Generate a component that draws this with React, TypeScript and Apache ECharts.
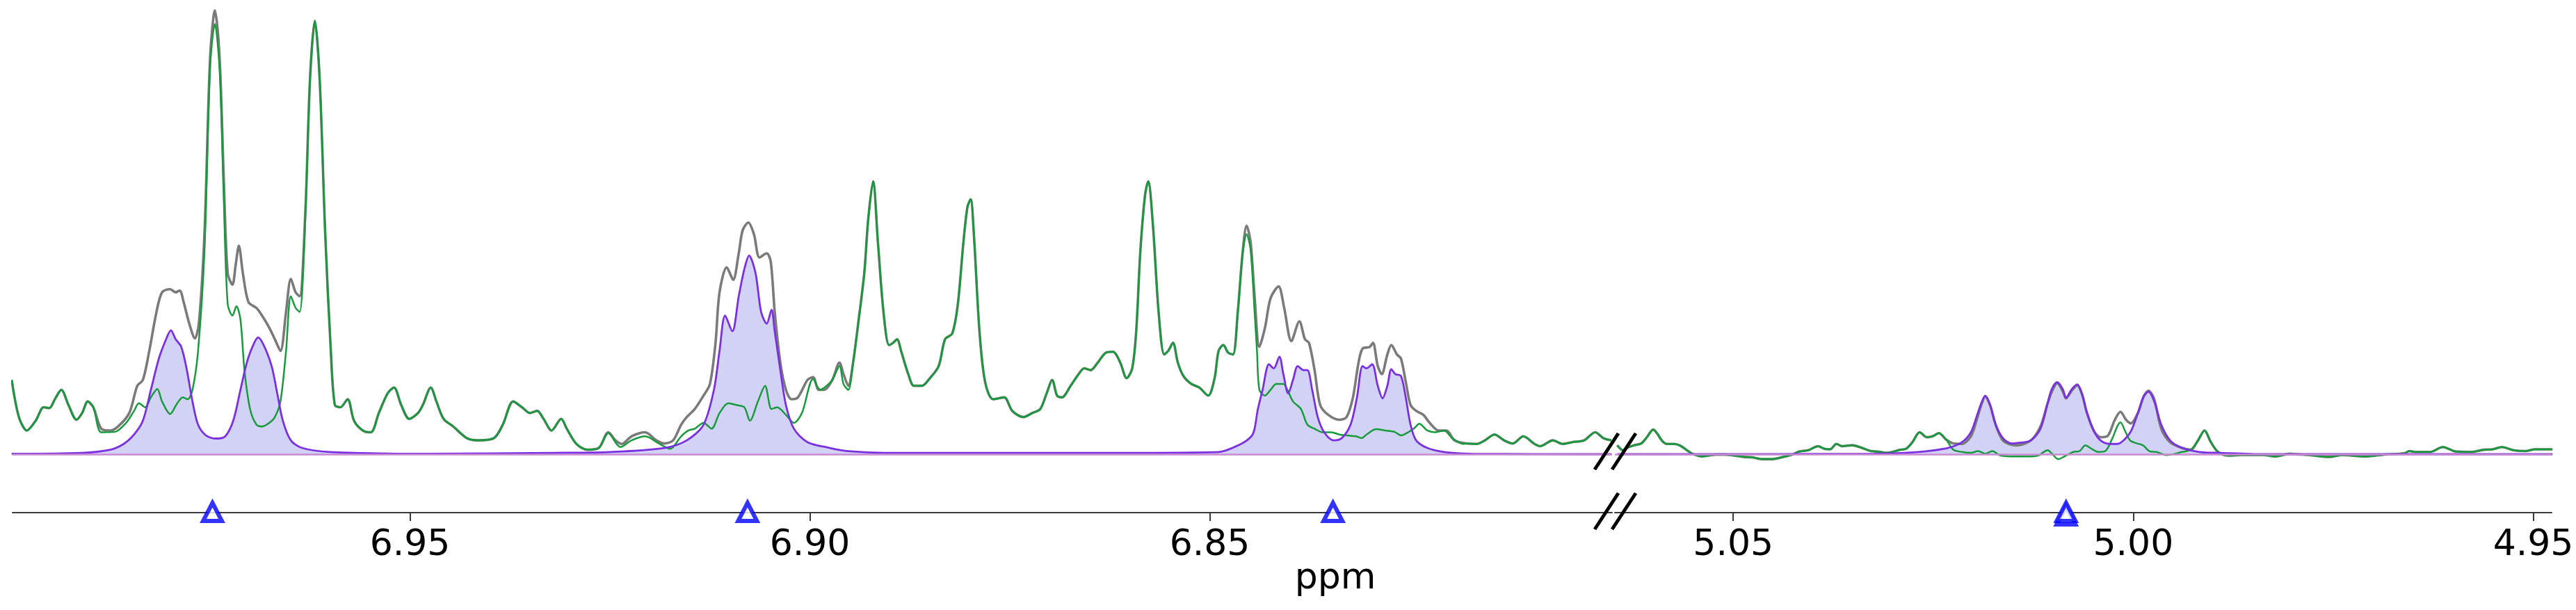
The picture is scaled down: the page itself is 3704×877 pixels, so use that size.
import React, { useEffect, useRef } from "react";
import * as echarts from "echarts";

// ---------- axis ranges / ticks (ppm) ----------
const LEFT_RANGE: [number, number] = [6.7997, 6.9997];
const RIGHT_RANGE: [number, number] = [4.9477, 5.0648];
const LEFT_TICKS = [6.95, 6.9, 6.85];
const RIGHT_TICKS = [5.05, 5.0, 4.95];
const Y_MIN = -13.06;
const Y_MAX = 100;

// ---------- observed spectrum (grey) ----------
const observedLeft: [number, number][] = [
  [6.9998, 16.6], [6.9989, 8.3], [6.9979, 5.3], [6.9968, 7.5], [6.9958, 10.5], [6.9951, 10.3], [6.9944, 12.3],
  [6.9936, 14.4], [6.9927, 11.0], [6.9917, 7.7], [6.991, 9.2], [6.9903, 11.8], [6.9896, 10.5], [6.9886, 5.7],
  [6.9875, 5.3], [6.9865, 6.2], [6.9851, 9.2], [6.9841, 15.3], [6.9834, 16.6], [6.9826, 23.1], [6.9817, 31.8],
  [6.981, 36.2], [6.98, 36.9], [6.9793, 36.2], [6.9788, 36.6], [6.9783, 34.0], [6.9776, 29.2], [6.9769, 25.9],
  [6.9764, 29.2], [6.9757, 49.2], [6.975, 88.3], [6.9744, 99.2], [6.9738, 88.3], [6.9733, 62.3], [6.9728, 40.5],
  [6.9722, 37.9], [6.9718, 42.3], [6.9714, 46.6], [6.9709, 40.5], [6.9702, 34.0], [6.9692, 32.7], [6.9685, 31.0],
  [6.9676, 28.3], [6.9669, 25.7], [6.9662, 23.1], [6.9655, 31.8], [6.9649, 39.2], [6.9643, 36.2], [6.9638, 35.3],
  [6.9631, 53.6], [6.9625, 84.0], [6.9619, 96.9], [6.9613, 84.0], [6.9606, 49.2], [6.9599, 23.1], [6.9594, 11.0],
  [6.9587, 10.5], [6.9578, 12.3], [6.957, 7.5], [6.9559, 5.3], [6.9549, 4.9], [6.9539, 9.2], [6.9528, 13.6],
  [6.952, 14.9], [6.9511, 11.0], [6.9501, 7.9], [6.949, 9.2], [6.9484, 11.0], [6.9474, 14.9], [6.9467, 11.8],
  [6.9458, 7.9], [6.9446, 6.2], [6.9429, 3.6], [6.9415, 3.1], [6.9395, 3.6], [6.9384, 6.6], [6.9371, 11.8],
  [6.936, 10.5], [6.935, 9.2], [6.9341, 9.7], [6.9333, 7.9], [6.9323, 5.3], [6.9311, 7.9], [6.9304, 5.7],
  [6.9292, 2.3], [6.9278, 1.0], [6.9264, 1.4], [6.9252, 4.9], [6.9243, 3.1], [6.9235, 2.3], [6.9223, 4.0],
  [6.9206, 4.9], [6.9192, 3.1], [6.9182, 2.4], [6.9171, 3.1], [6.9161, 6.6], [6.9154, 8.3], [6.9144, 10.1],
  [6.9133, 13.1], [6.9125, 15.7], [6.9118, 24.9], [6.9113, 36.2], [6.9104, 41.8], [6.9096, 39.0], [6.9089, 44.9],
  [6.9084, 50.1], [6.9077, 51.8], [6.907, 49.2], [6.9063, 44.0], [6.9054, 44.9], [6.9049, 43.1], [6.9044, 31.8],
  [6.9037, 20.5], [6.903, 14.4], [6.9023, 12.3], [6.9015, 12.7], [6.9003, 16.6], [6.8996, 17.2], [6.8989, 14.4],
  [6.8982, 14.4], [6.8972, 16.6], [6.8963, 20.5], [6.8958, 17.9], [6.8952, 15.3], [6.8946, 20.5], [6.8939, 30.1],
  [6.8932, 40.5], [6.8927, 52.7], [6.8921, 61.0], [6.8915, 47.5], [6.8908, 31.8], [6.8901, 24.4], [6.8896, 24.9],
  [6.8891, 25.7], [6.8886, 23.1], [6.8877, 17.9], [6.887, 15.3], [6.886, 15.3], [6.885, 17.0], [6.8839, 19.7],
  [6.8831, 25.7], [6.8822, 27.0], [6.8815, 33.6], [6.8808, 47.5], [6.8803, 55.3], [6.8799, 57.0], [6.8795, 49.2],
  [6.8788, 27.5], [6.8781, 16.2], [6.8771, 12.3], [6.8757, 12.7], [6.8747, 9.7], [6.8733, 8.3], [6.8722, 9.2],
  [6.8712, 10.1], [6.8704, 13.6], [6.8697, 16.6], [6.8691, 13.1], [6.8685, 12.7], [6.8674, 15.3], [6.8664, 17.9],
  [6.8657, 19.2], [6.8649, 18.8], [6.864, 20.5], [6.863, 22.7], [6.8621, 22.9], [6.8612, 20.5], [6.8604, 17.0],
  [6.8597, 19.2], [6.8592, 27.5], [6.8587, 44.9], [6.8581, 57.9], [6.8577, 61.0], [6.8571, 51.0], [6.8564, 31.8],
  [6.8557, 22.3], [6.8552, 23.1], [6.8546, 24.9], [6.854, 20.5], [6.8533, 17.5], [6.8523, 15.7], [6.8513, 14.9],
  [6.8502, 13.1], [6.8494, 17.0], [6.8489, 23.1], [6.8483, 24.4], [6.8477, 22.7], [6.8471, 22.3], [6.8465, 31.8],
  [6.8459, 44.9], [6.8454, 51.1], [6.8449, 47.5], [6.8444, 35.3], [6.8438, 24.0], [6.8431, 28.3], [6.8424, 34.9],
  [6.8414, 37.5], [6.8407, 32.7], [6.8398, 25.3], [6.8388, 29.7], [6.8381, 25.7], [6.8376, 24.9], [6.8369, 18.8],
  [6.8362, 11.0], [6.8352, 8.8], [6.8338, 7.7], [6.8329, 8.3], [6.8321, 12.7], [6.8314, 20.5], [6.8309, 23.6],
  [6.83, 24.0], [6.8296, 24.9], [6.829, 19.7], [6.8285, 17.9], [6.8278, 22.3], [6.8273, 24.4], [6.8266, 22.3],
  [6.8261, 21.4], [6.8255, 16.2], [6.8249, 11.0], [6.8242, 9.7], [6.8233, 8.8], [6.8225, 7.0], [6.8214, 5.3],
  [6.8204, 5.3], [6.8194, 3.1], [6.818, 2.4], [6.8166, 2.3], [6.8156, 3.1], [6.8144, 4.4], [6.8132, 3.1],
  [6.8121, 2.4], [6.8108, 4.0], [6.8094, 2.3], [6.8087, 1.8], [6.8071, 3.1], [6.8059, 2.3], [6.8047, 2.7],
  [6.8032, 3.1], [6.8018, 4.9], [6.8008, 3.6], [6.7998, 3.1],
];

const observedRight: [number, number][] = [
  [5.0645, 2.0], [5.0638, 0.9], [5.0632, 1.5], [5.0624, 2.0], [5.0615, 2.4], [5.0608, 3.8], [5.06, 5.5],
  [5.0595, 4.6], [5.0589, 3.0], [5.0583, 2.3], [5.0574, 2.3], [5.0566, 1.9], [5.0558, 0.9], [5.0551, 0.1],
  [5.0539, -0.5], [5.0531, -0.3], [5.0522, -0.1], [5.051, -0.1], [5.0499, -0.3], [5.0487, -0.6], [5.0476, -0.7],
  [5.0464, -1.1], [5.0452, -1.1], [5.0444, -0.9], [5.0435, -0.5], [5.0426, -0.1], [5.0418, 0.6], [5.0406, 0.9],
  [5.0394, 1.8], [5.0386, 1.2], [5.0379, 1.1], [5.0371, 2.3], [5.0364, 1.8], [5.0351, 2.0], [5.0339, 1.4],
  [5.0328, 0.7], [5.0319, 0.6], [5.0309, 0.3], [5.0291, 1.0], [5.0284, 1.2], [5.0276, 2.7], [5.0267, 4.9],
  [5.0258, 3.8], [5.0251, 4.0], [5.0243, 4.7], [5.0234, 3.3], [5.0225, 2.4], [5.0214, 2.3], [5.0203, 4.0],
  [5.0196, 7.5], [5.019, 11.0], [5.0185, 12.9], [5.0179, 11.0], [5.0172, 6.6], [5.0163, 3.1], [5.0152, 2.1],
  [5.0145, 2.0], [5.0128, 3.1], [5.0116, 6.2], [5.0107, 11.4], [5.0102, 13.9], [5.0095, 15.9], [5.0088, 14.0],
  [5.0084, 12.5], [5.0077, 14.2], [5.007, 15.4], [5.0064, 13.4], [5.0058, 9.3], [5.0049, 5.1], [5.0041, 3.8],
  [5.0032, 4.1], [5.0023, 7.7], [5.0016, 9.5], [5.0009, 7.7], [5.0003, 6.9], [4.9994, 9.3], [4.9987, 12.9],
  [4.9981, 14.2], [4.9974, 12.4], [4.9965, 5.7], [4.9954, 2.7], [4.9939, 1.4], [4.9928, 1.0], [4.9919, 3.1],
  [4.9911, 5.3], [4.9903, 2.7], [4.9894, 0.5], [4.9881, -0.3], [4.9866, -0.2], [4.9837, -0.2], [4.9822, -0.5],
  [4.9804, 0.1], [4.9797, 0.0], [4.978, -0.2], [4.9754, -0.6], [4.9739, -0.2], [4.971, -0.5], [4.9687, -0.1],
  [4.9661, 0.2], [4.9655, 0.7], [4.9646, 0.5], [4.9629, 0.5], [4.9613, 1.6], [4.9597, 0.6], [4.9577, 0.5],
  [4.9562, 1.0], [4.9551, 1.1], [4.9539, 1.6], [4.9525, 0.9], [4.951, 0.7], [4.9498, 1.1], [4.9476, 1.1],
];

// ---------- residual (green): read where it departs from the observed trace ----------
const residualLeftWindows: [number, number][] = [[6.9631, 6.9886], [6.8952, 6.9252], [6.8183, 6.8454]];
const residualLeftReadings: [number, number][] = [
  [6.9886, 4.9], [6.9869, 5.0], [6.9855, 7.0], [6.9845, 9.7], [6.9839, 11.4], [6.9831, 10.5], [6.9824, 12.7],
  [6.9816, 14.6], [6.981, 11.8], [6.98, 9.0], [6.9791, 11.4], [6.9784, 12.7], [6.9778, 12.3], [6.9772, 14.4],
  [6.9765, 23.1], [6.9757, 45.5], [6.975, 86.6], [6.9744, 96.2], [6.9738, 85.7], [6.9733, 57.9], [6.9728, 33.6],
  [6.9722, 31.0], [6.9717, 33.1], [6.9712, 30.1], [6.9707, 18.8], [6.97, 10.1], [6.9692, 6.6], [6.9685, 6.2],
  [6.9676, 7.0], [6.9669, 8.3], [6.9662, 11.8], [6.9655, 23.1], [6.9649, 35.3], [6.9643, 32.7], [6.9638, 31.8],
  [6.9631, 52.7],
  [6.9252, 4.7], [6.9237, 1.6], [6.9223, 3.1], [6.9206, 4.0], [6.9188, 2.3], [6.9175, 1.2], [6.9161, 4.0],
  [6.9152, 5.3], [6.9144, 5.7], [6.9133, 7.0], [6.9123, 5.7], [6.9113, 9.2], [6.9102, 11.4], [6.9092, 11.0],
  [6.9082, 10.5], [6.9075, 7.5], [6.9065, 11.8], [6.9056, 15.3], [6.9048, 10.1], [6.9041, 10.5], [6.903, 8.8],
  [6.902, 7.0], [6.901, 9.2], [6.8996, 16.8], [6.8987, 14.4], [6.8979, 15.3], [6.8972, 16.6], [6.8963, 19.7],
  [6.8958, 15.7], [6.8952, 14.4],
  [6.8454, 49.2], [6.8449, 45.7], [6.8444, 31.8], [6.8441, 23.1], [6.8438, 14.4], [6.8431, 13.1], [6.8424, 14.4],
  [6.8417, 15.7], [6.8408, 15.7], [6.8403, 14.4], [6.8396, 11.8], [6.8386, 10.1], [6.8378, 6.6], [6.8369, 5.7],
  [6.8359, 4.9], [6.8348, 4.9], [6.8338, 4.4], [6.8328, 4.2], [6.8317, 4.0], [6.831, 3.6], [6.8304, 4.4],
  [6.8292, 5.6], [6.828, 5.3], [6.8269, 5.0], [6.8261, 4.2], [6.8252, 4.9], [6.8245, 5.7], [6.8238, 6.8],
  [6.8228, 5.3], [6.8218, 4.9], [6.8207, 5.3], [6.8197, 3.6], [6.8183, 2.3],
];
const residualRightWindows: [number, number][] = [[4.9928, 5.0225]];
const residualRightReadings: [number, number][] = [
  [5.0225, 1.0], [5.0214, 0.5], [5.0203, 0.3], [5.0194, 0.7], [5.0185, 0.1], [5.0176, 0.7], [5.0166, -0.3],
  [5.0145, -0.5], [5.0133, -0.5], [5.0119, -0.3], [5.0107, 0.9], [5.0102, 0.2], [5.0094, -1.1], [5.0084, -0.3],
  [5.0075, 0.5], [5.0067, 0.7], [5.006, 2.0], [5.0052, 1.2], [5.0044, 0.5], [5.0035, 0.7], [5.0026, 3.6],
  [5.002, 6.2], [5.0016, 7.1], [5.001, 5.1], [5.0004, 3.1], [4.9997, 2.5], [4.9988, 2.0], [4.998, 0.7],
  [4.9971, 0.5], [4.9958, -0.2], [4.9939, 0.5], [4.9928, 1.0],
];

// ---------- fitted multiplets (purple) ----------
const fitLeft: [number, number][] = [
  [6.9998, 0.1], [6.991, 0.3], [6.9875, 1.0], [6.9858, 2.3], [6.9845, 4.4], [6.9834, 7.5], [6.9824, 14.4],
  [6.9814, 21.4], [6.9805, 25.7], [6.9799, 27.7], [6.9793, 25.7], [6.9786, 24.0], [6.9779, 18.8], [6.9772, 11.8],
  [6.9765, 6.6], [6.9755, 4.2], [6.9741, 3.5], [6.9731, 4.0], [6.9721, 7.5], [6.9712, 14.4], [6.9704, 20.5],
  [6.9697, 24.0], [6.969, 26.1], [6.9683, 24.4], [6.9673, 19.7], [6.9666, 13.6], [6.9659, 7.5], [6.9649, 3.1],
  [6.9635, 1.4], [6.96, 0.5], [6.9477, 0.1], [6.9319, 0.3], [6.925, 0.5], [6.9182, 1.4], [6.9154, 3.1],
  [6.9133, 6.6], [6.912, 14.4], [6.9113, 23.1], [6.9106, 31.0], [6.9097, 27.5], [6.9089, 35.3], [6.9082, 41.4],
  [6.9076, 44.4], [6.9068, 40.5], [6.9061, 31.8], [6.9054, 29.2], [6.9048, 32.3], [6.9044, 27.5], [6.9037, 18.8],
  [6.903, 11.0], [6.902, 5.7], [6.9003, 2.7], [6.8975, 1.4], [6.8952, 0.7], [6.8901, 0.3], [6.8626, 0.3],
  [6.8489, 0.5], [6.8461, 2.3], [6.8448, 4.0], [6.8444, 5.7], [6.844, 10.0], [6.8434, 14.4], [6.8426, 20.1],
  [6.842, 19.2], [6.8413, 21.8], [6.8408, 17.9], [6.8402, 13.6], [6.8396, 16.6], [6.839, 19.7], [6.8383, 18.8],
  [6.8378, 18.8], [6.8372, 14.4], [6.8365, 8.3], [6.8357, 4.9], [6.8345, 3.1], [6.8335, 3.6], [6.8324, 6.6],
  [6.8316, 12.7], [6.8309, 19.7], [6.8304, 19.2], [6.8297, 20.1], [6.829, 15.3], [6.8284, 12.5], [6.8278, 15.3],
  [6.8273, 19.0], [6.8268, 17.9], [6.8261, 17.5], [6.8255, 12.7], [6.8249, 6.6], [6.8242, 3.1], [6.8228, 1.4],
  [6.8207, 0.5], [6.8173, 0.1], [6.7998, 0.0],
];
const fitRight: [number, number][] = [
  [5.0645, 0.0], [5.0324, 0.1], [5.0269, 0.5], [5.0232, 1.4], [5.0214, 2.7], [5.0203, 4.9], [5.0196, 8.3],
  [5.019, 11.4], [5.0185, 13.1], [5.0179, 11.0], [5.0172, 6.6], [5.0163, 3.6], [5.0152, 2.4], [5.0145, 2.5],
  [5.0128, 3.1], [5.0116, 5.7], [5.0107, 11.4], [5.0102, 14.5], [5.0095, 16.1], [5.0088, 14.5], [5.0084, 12.6],
  [5.0077, 14.5], [5.007, 15.6], [5.0064, 13.4], [5.0058, 9.3], [5.0049, 5.1], [5.0041, 3.1], [5.0029, 2.3],
  [5.002, 2.3], [5.0012, 3.1], [5.0003, 5.1], [4.9994, 9.3], [4.9987, 12.9], [4.9981, 14.0], [4.9974, 11.9],
  [4.9965, 6.6], [4.9954, 3.1], [4.9939, 1.4], [4.9917, 0.5], [4.9892, 0.3], [4.9837, 0.0], [4.9476, 0.0],
];

// ---------- peak markers (ppm) ----------
const markersLeft = [6.9747, 6.9078, 6.8346];
const markersRight = [5.0084];
const doubledMarkers = [5.0084];

// ---------- styling ----------
const GREY = "#7a7a7a";
const GREEN_BRIGHT = "#2ee26c";
const GREEN_DARK = "#169a3c";
const PURPLE = "#7a30e0";
const FILL = "#d2d2f4";
const BASELINE = "#c98ad0";
const BLUE = "#0000ff";
const FONT = "DejaVu Sans";

const GRID_TOP = 10;
const GRID_H = 727;
const LEFT_X = 18;
const LEFT_W = 2300;
const RIGHT_X = 2322;
const RIGHT_W = 1347;

function residual(observed: [number, number][], readings: [number, number][], windows: [number, number][]) {
  const outside = observed.filter(([x]) => !windows.some(([a, b]) => x >= a && x <= b));
  return [...outside, ...readings].sort((p, q) => q[0] - p[0]);
}

function seriesFor(g: number, observed: [number, number][], resid: [number, number][], fit: [number, number][], markers: number[], doubled: number[]) {
  const common = { xAxisIndex: g, yAxisIndex: g, showSymbol: false, smooth: 0.3, silent: true, animation: false };
  const list: any[] = [
    {
      ...common, type: "line", data: fit, z: 1,
      lineStyle: { width: 0, opacity: 0 }, areaStyle: { color: FILL, opacity: 1 },
      markLine: {
        silent: true, symbol: "none", label: { show: false },
        lineStyle: { color: BASELINE, width: 2.5, type: "solid" },
        data: [{ yAxis: 0 }],
      },
    },
    { ...common, type: "line", data: observed, z: 2, lineStyle: { color: GREY, width: 3.6 } },
    { ...common, type: "line", data: resid, z: 3, lineStyle: { color: GREEN_DARK, width: 2.5 } },
    { ...common, type: "line", data: fit, z: 4, lineStyle: { color: PURPLE, width: 2.8 } },
  ];
  if (doubled.length) {
    list.push({
      type: "scatter", xAxisIndex: g, yAxisIndex: g, clip: false, silent: true, z: 8,
      symbol: "triangle", symbolSize: [27, 26], symbolOffset: [0, 4],
      itemStyle: { color: "#ffffff", borderColor: BLUE, borderWidth: 6 },
      data: doubled.map((x) => [x, Y_MIN]),
    });
  }
  list.push({
    type: "scatter", xAxisIndex: g, yAxisIndex: g, clip: false, silent: true, z: 9,
    symbol: "triangle", symbolSize: [27, 26], symbolOffset: [0, -1],
    itemStyle: { color: "#ffffff", borderColor: BLUE, borderWidth: 6 },
    data: markers.map((x) => [x, Y_MIN]),
  });
  return list;
}

function residualColours(seriesIndex: number, windows: [number, number][]) {
  return {
    type: "piecewise", show: false, dimension: 0, seriesIndex,
    pieces: windows.map(([a, b]) => ({ gte: a, lte: b, color: GREEN_BRIGHT })),
    outOfRange: { color: GREEN_DARK },
  };
}

function xAxisFor(g: number, range: [number, number], ticks: number[]) {
  return {
    type: "value", gridIndex: g, min: range[0], max: range[1], inverse: true,
    splitLine: { show: false },
    axisLine: { show: true, onZero: false, lineStyle: { color: "#3a3a3a", width: 2 } },
    axisTick: { show: true, inside: false, length: 12, customValues: ticks, lineStyle: { color: "#3a3a3a", width: 2 } },
    axisLabel: {
      show: true, customValues: ticks, margin: 17, color: "#000000",
      fontSize: 52, lineHeight: 52, fontFamily: FONT,
      formatter: (v: number) => v.toFixed(2),
    },
  };
}

function yAxisFor(g: number) {
  return { type: "value", gridIndex: g, min: Y_MIN, max: Y_MAX, show: false, splitLine: { show: false } };
}

function breakMarks() {
  const out: any[] = [];
  const cys = [649, 735];
  const cxs = [2310, 2335];
  for (const cy of cys) {
    for (const cx of cxs) {
      out.push({
        type: "line", z: 100, silent: true,
        shape: { x1: cx - 17, y1: cy + 26, x2: cx + 17, y2: cy - 26 },
        style: { stroke: "#000000", lineWidth: 5 },
      });
    }
  }
  return out;
}

export default function App() {
  const ref = useRef<HTMLDivElement>(null);
  useEffect(() => {
    if (!ref.current) return;
    const chart = echarts.init(ref.current, undefined, { renderer: "svg" });
    const residLeft = residual(observedLeft, residualLeftReadings, residualLeftWindows);
    const residRight = residual(observedRight, residualRightReadings, residualRightWindows);
    const leftSeries = seriesFor(0, observedLeft, residLeft, fitLeft, markersLeft, []);
    const rightSeries = seriesFor(1, observedRight, residRight, fitRight, markersRight, doubledMarkers);
    const greenLeftIndex = 2;
    const greenRightIndex = leftSeries.length + 2;
    chart.setOption({
      animation: false,
      backgroundColor: "#ffffff",
      textStyle: { fontFamily: FONT },
      grid: [
        { left: LEFT_X, top: GRID_TOP, width: LEFT_W, height: GRID_H, containLabel: false, outerBoundsMode: "none" },
        { left: RIGHT_X, top: GRID_TOP, width: RIGHT_W, height: GRID_H, containLabel: false, outerBoundsMode: "none" },
      ],
      xAxis: [xAxisFor(0, LEFT_RANGE, LEFT_TICKS), xAxisFor(1, RIGHT_RANGE, RIGHT_TICKS)],
      yAxis: [yAxisFor(0), yAxisFor(1)],
      visualMap: [
        residualColours(greenLeftIndex, residualLeftWindows),
        residualColours(greenRightIndex, residualRightWindows),
      ],
      series: [...leftSeries, ...rightSeries],
      graphic: [
        ...breakMarks(),
        {
          type: "text", x: 1920, y: 828, z: 100, silent: true,
          style: { text: "ppm", fill: "#000000", fontSize: 52, fontFamily: FONT, align: "center", verticalAlign: "middle" },
        },
      ],
    });
    return () => chart.dispose();
  }, []);
  return (
    <div
      ref={ref}
      style={{ position: "fixed", left: 0, top: 0, width: 3704, height: 877, background: "#ffffff" }}
    />
  );
}
